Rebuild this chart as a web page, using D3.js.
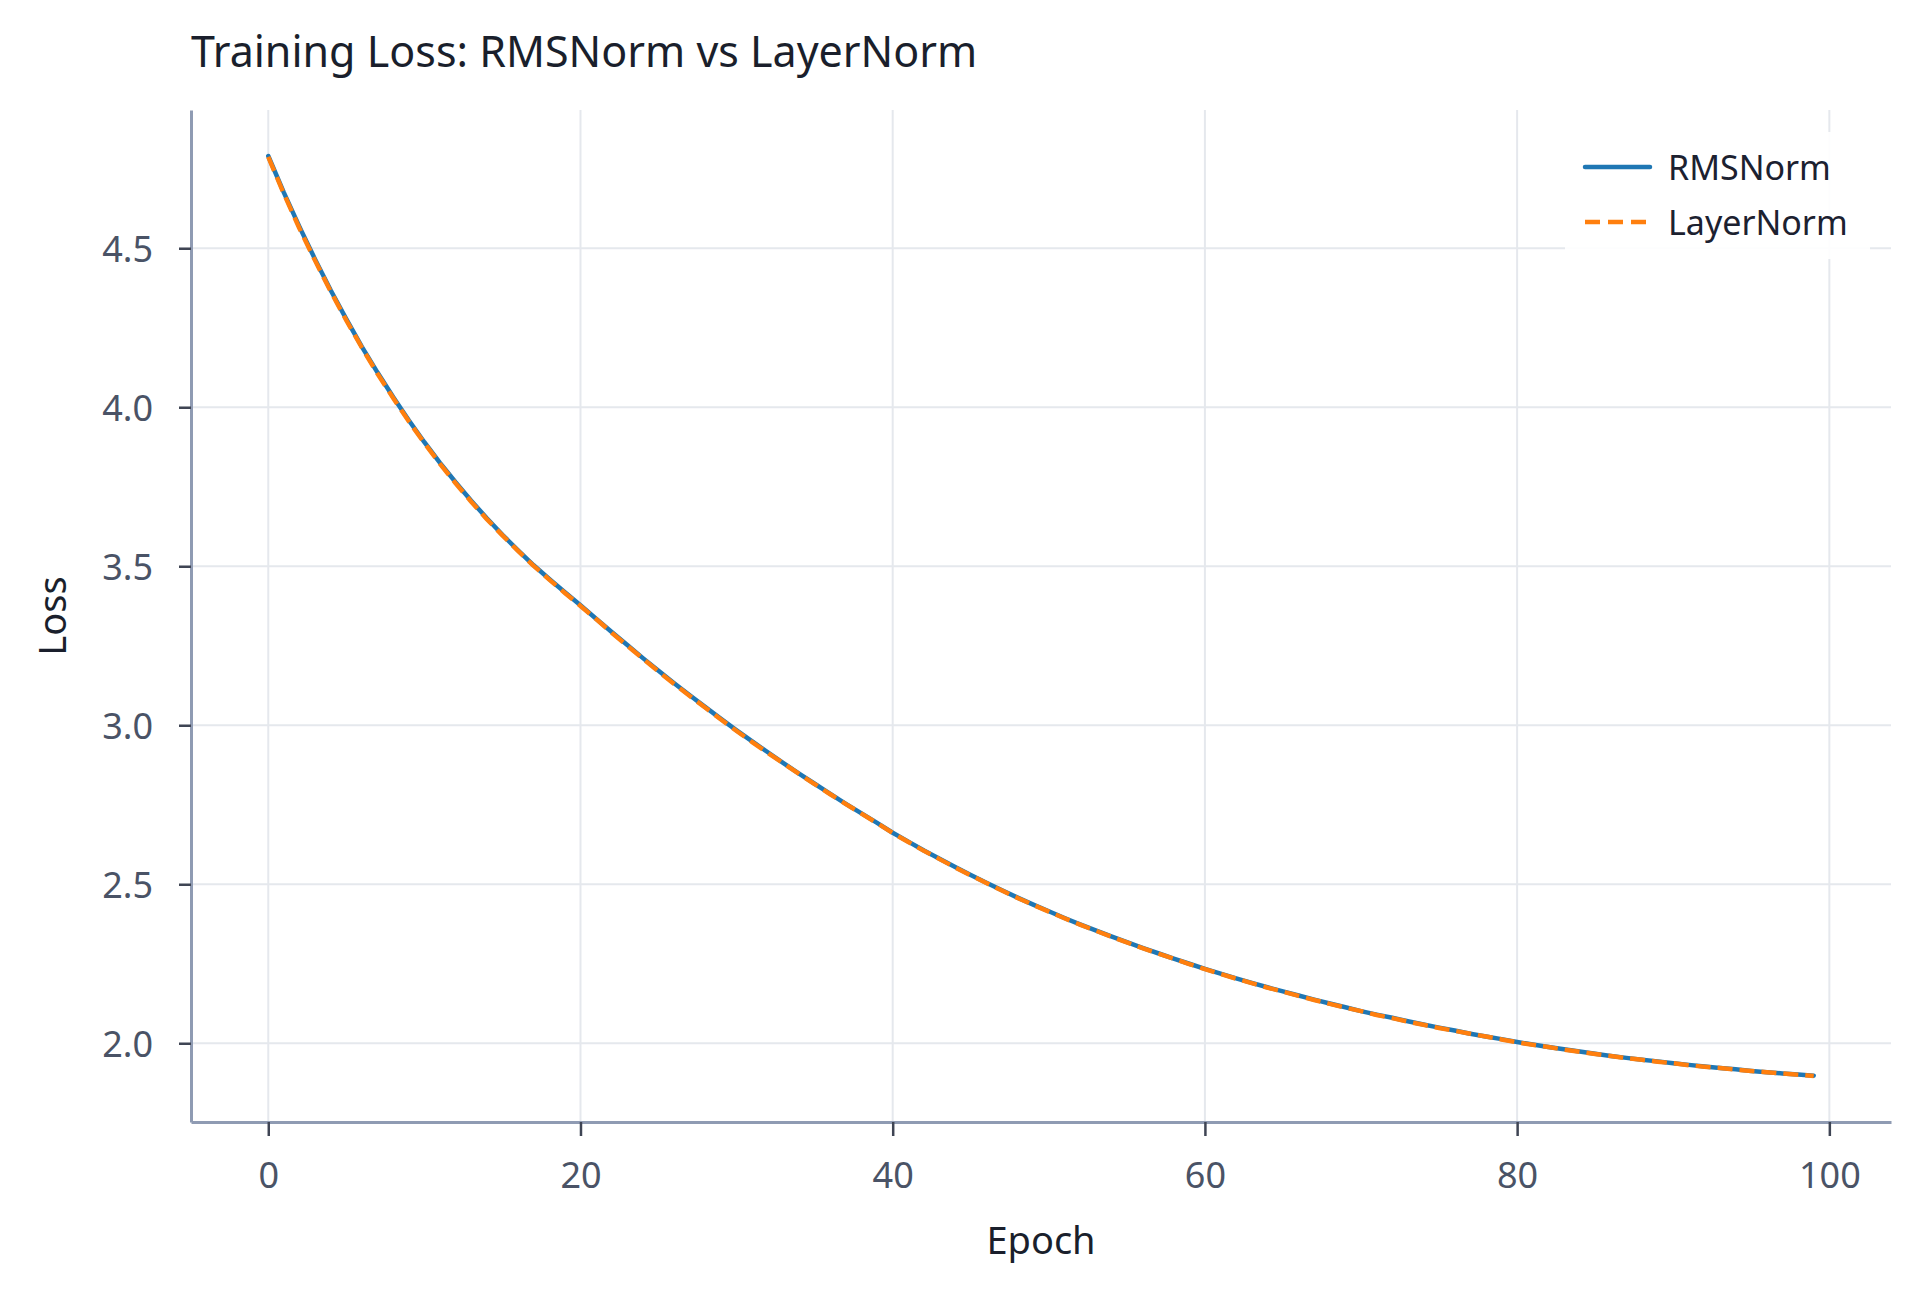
<!DOCTYPE html>
<html>
<head>
<meta charset="utf-8">
<script src="https://cdn.jsdelivr.net/npm/d3@7"></script>
<style>
  body { margin: 0; background: #ffffff; }
  #chart { width: 1920px; height: 1292px; }
  text { font-family: "Noto Sans", sans-serif; }
</style>
</head>
<body>
<div id="chart"></div>
<script>
// Loss per epoch
const rmsnormLoss = [
  4.790, 4.675, 4.567, 4.465, 4.368, 4.277, 4.190, 4.109, 4.032, 3.959,
  3.890, 3.825, 3.764, 3.706, 3.651, 3.599, 3.550, 3.503, 3.460, 3.418,
  3.377, 3.335, 3.293, 3.252, 3.211, 3.171, 3.132, 3.094, 3.057, 3.020,
  2.984, 2.949, 2.915, 2.881, 2.848, 2.816, 2.784, 2.753, 2.723, 2.693,
  2.662, 2.634, 2.606, 2.580, 2.554, 2.529, 2.505, 2.481, 2.458, 2.436,
  2.415, 2.394, 2.374, 2.355, 2.336, 2.318, 2.300, 2.283, 2.266, 2.250,
  2.234, 2.219, 2.204, 2.190, 2.176, 2.163, 2.150, 2.137, 2.125, 2.113,
  2.101, 2.090, 2.080, 2.069, 2.059, 2.049, 2.040, 2.030, 2.021, 2.013,
  2.004, 1.996, 1.988, 1.981, 1.974, 1.967, 1.960, 1.954, 1.948, 1.943,
  1.937, 1.932, 1.927, 1.922, 1.918, 1.913, 1.909, 1.905, 1.902, 1.898
];

const layernormLoss = [
  4.787, 4.671, 4.562, 4.461, 4.364, 4.273, 4.187, 4.105, 4.029, 3.956,
  3.887, 3.822, 3.761, 3.703, 3.648, 3.597, 3.548, 3.501, 3.458, 3.416,
  3.375, 3.334, 3.291, 3.250, 3.209, 3.169, 3.130, 3.092, 3.055, 3.018,
  2.982, 2.947, 2.913, 2.880, 2.847, 2.815, 2.783, 2.752, 2.722, 2.692,
  2.661, 2.633, 2.605, 2.579, 2.553, 2.528, 2.504, 2.480, 2.457, 2.435,
  2.414, 2.393, 2.373, 2.354, 2.335, 2.317, 2.299, 2.282, 2.266, 2.249,
  2.233, 2.218, 2.203, 2.189, 2.175, 2.162, 2.149, 2.136, 2.124, 2.112,
  2.101, 2.089, 2.079, 2.068, 2.058, 2.048, 2.039, 2.030, 2.021, 2.012,
  2.003, 1.995, 1.988, 1.980, 1.973, 1.966, 1.960, 1.953, 1.948, 1.942,
  1.937, 1.931, 1.926, 1.922, 1.917, 1.913, 1.909, 1.905, 1.901, 1.897
];

const seriesNames = ['RMSNorm', 'LayerNorm'];
const xTicks = [0, 20, 40, 60, 80, 100];
const yTicks = [2.0, 2.5, 3.0, 3.5, 4.0, 4.5];

class LossChart {

    constructor(parentElement) {
        this.parentElement = parentElement;
        this.initVis();
    }

    initVis() {
        let vis = this;

        vis.width = 1920;
        vis.height = 1292;
        vis.plot = {left: 191, right: 1891, top: 110, bottom: 1122};

        vis.svg = d3.select('#' + vis.parentElement)
            .append('svg')
            .attr('width', vis.width)
            .attr('height', vis.height);

        vis.wrangleData();
    }

    wrangleData() {
        let vis = this;

        vis.series = [
            {name: seriesNames[0], values: rmsnormLoss.map((v, i) => ({epoch: i, loss: v})), color: '#1f77b4', dash: null},
            {name: seriesNames[1], values: layernormLoss.map((v, i) => ({epoch: i, loss: v})), color: '#ff7f0e', dash: '15,7'}
        ];

        vis.updateVis();
    }

    updateVis() {
        let vis = this;
        let p = vis.plot;

        // matplotlib-style 5% padding around the data
        let all = vis.series.flatMap(s => s.values);
        let [x0, x1] = d3.extent(all, d => d.epoch);
        let [y0, y1] = d3.extent(all, d => d.loss);
        let xPad = (x1 - x0) * 0.05, yPad = (y1 - y0) * 0.05;

        vis.x = d3.scaleLinear().domain([x0 - xPad, x1 + xPad]).range([p.left, p.right]);
        vis.y = d3.scaleLinear().domain([y0 - yPad, y1 + yPad]).range([p.bottom, p.top]);

        // grid
        vis.svg.append('g').selectAll('line')
            .data(xTicks)
            .join('line')
            .attr('x1', d => vis.x(d)).attr('x2', d => vis.x(d))
            .attr('y1', p.top).attr('y2', p.bottom)
            .attr('stroke', '#e5e8ed').attr('stroke-width', 2);

        vis.svg.append('g').selectAll('line')
            .data(yTicks)
            .join('line')
            .attr('x1', p.left).attr('x2', p.right)
            .attr('y1', d => vis.y(d)).attr('y2', d => vis.y(d))
            .attr('stroke', '#e5e8ed').attr('stroke-width', 2);

        // axes (tickSize first, it also sets the outer size)
        let xAxis = vis.svg.append('g')
            .attr('transform', `translate(0, ${p.bottom})`)
            .call(d3.axisBottom(vis.x).tickValues(xTicks).tickFormat(d3.format('d')).tickSize(14).tickSizeOuter(0).tickPadding(26));

        let yAxis = vis.svg.append('g')
            .attr('transform', `translate(${p.left}, 0)`)
            .call(d3.axisLeft(vis.y).tickValues(yTicks).tickFormat(d3.format('.1f')).tickSize(12).tickSizeOuter(0).tickPadding(26));

        [xAxis, yAxis].forEach(ax => {
            ax.select('.domain').attr('stroke', '#8f9bb3').attr('stroke-width', 3);
            ax.selectAll('.tick line').attr('stroke', '#3f4554').attr('stroke-width', 2.5);
            ax.selectAll('.tick text')
                .attr('fill', '#4a5366')
                .style('font-family', '"Noto Sans", sans-serif')
                .style('font-size', '36px');
        });
        yAxis.selectAll('.tick text').attr('dy', '0.36em');

        // lines
        let line = d3.line()
            .x(d => vis.x(d.epoch))
            .y(d => vis.y(d.loss))
            .curve(d3.curveLinear);

        vis.svg.append('g').selectAll('path')
            .data(vis.series)
            .join('path')
            .attr('d', d => line(d.values))
            .attr('fill', 'none')
            .attr('stroke', d => d.color)
            .attr('stroke-width', 4.5)
            .attr('stroke-dasharray', d => d.dash)
            .attr('stroke-linejoin', 'round')
            .attr('stroke-linecap', d => d.dash ? 'butt' : 'round');

        // legend
        let legend = vis.svg.append('g');
        legend.append('rect')
            .attr('x', 1565).attr('y', 132)
            .attr('width', 305).attr('height', 127)
            .attr('rx', 6)
            .attr('fill', '#ffffff').attr('fill-opacity', 0.9);

        let items = legend.selectAll('g.item')
            .data(vis.series)
            .join('g')
            .attr('class', 'item')
            .attr('transform', (d, i) => `translate(1585, ${167 + i * 55})`);

        items.append('line')
            .attr('x1', 0).attr('x2', 65)
            .attr('stroke', d => d.color)
            .attr('stroke-width', 4.5)
            .attr('stroke-dasharray', d => d.dash ? '15,8' : null)
            .attr('stroke-linecap', d => d.dash ? 'butt' : 'round');

        items.append('text')
            .attr('x', 83).attr('y', 13)
            .attr('fill', '#1c2130')
            .style('font-size', '34px')
            .text(d => d.name);

        // titles
        vis.svg.append('text')
            .attr('x', 191).attr('y', 67)
            .attr('fill', '#1a1f2c')
            .style('font-size', '43px')
            .text('Training Loss: RMSNorm vs LayerNorm');

        vis.svg.append('text')
            .attr('x', (p.left + p.right) / 2).attr('y', 1254)
            .attr('text-anchor', 'middle')
            .attr('fill', '#1a1f2c')
            .style('font-size', '38px')
            .text('Epoch');

        vis.svg.append('text')
            .attr('transform', `translate(66, ${(p.top + p.bottom) / 2}) rotate(-90)`)
            .attr('text-anchor', 'middle')
            .attr('fill', '#1a1f2c')
            .style('font-size', '38px')
            .text('Loss');
    }
}

new LossChart('chart');
</script>
</body>
</html>
